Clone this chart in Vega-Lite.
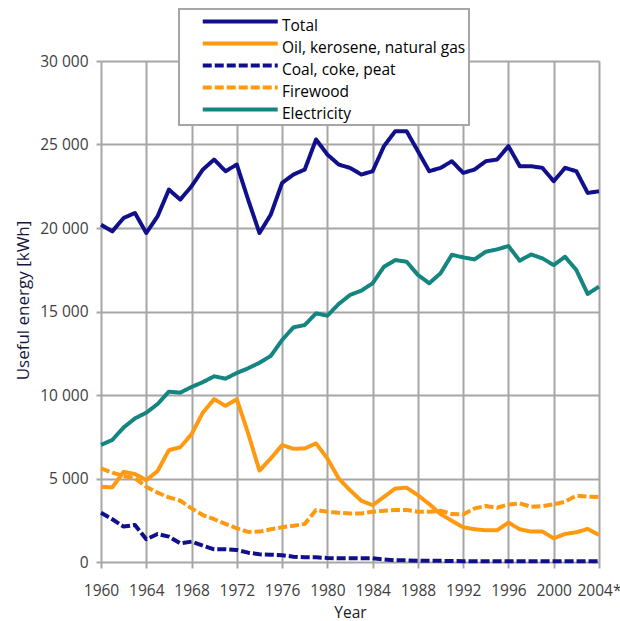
{
  "$schema": "https://vega.github.io/schema/vega-lite/v6.json",
  "width": 498,
  "height": 501,
  "autosize": "none",
  "padding": {"left": 101, "top": 61, "right": 21, "bottom": 59},
  "background": "white",
  "config": {
    "view": {"stroke": null},
    "font": "Open Sans",
    "axis": {
      "gridColor": "#a6a6a6",
      "gridWidth": 2,
      "gridOpacity": 1,
      "tickColor": "#a6a6a6",
      "tickWidth": 2,
      "domain": false,
      "labelFont": "Open Sans",
      "labelFontSize": 15.5,
      "labelColor": "#404040",
      "titleFont": "Open Sans",
      "titleFontWeight": "normal"
    }
  },
  "data": {
    "values": [
      {"year":1960,"series":"Total","value":20200},{"year":1961,"series":"Total","value":19800},{"year":1962,"series":"Total","value":20600},{"year":1963,"series":"Total","value":20900},{"year":1964,"series":"Total","value":19700},{"year":1965,"series":"Total","value":20700},{"year":1966,"series":"Total","value":22300},{"year":1967,"series":"Total","value":21700},{"year":1968,"series":"Total","value":22500},{"year":1969,"series":"Total","value":23500},{"year":1970,"series":"Total","value":24100},{"year":1971,"series":"Total","value":23400},{"year":1972,"series":"Total","value":23800},{"year":1973,"series":"Total","value":21700},{"year":1974,"series":"Total","value":19700},{"year":1975,"series":"Total","value":20800},{"year":1976,"series":"Total","value":22700},{"year":1977,"series":"Total","value":23200},{"year":1978,"series":"Total","value":23500},{"year":1979,"series":"Total","value":25300},{"year":1980,"series":"Total","value":24400},{"year":1981,"series":"Total","value":23800},{"year":1982,"series":"Total","value":23600},{"year":1983,"series":"Total","value":23200},{"year":1984,"series":"Total","value":23400},{"year":1985,"series":"Total","value":24900},{"year":1986,"series":"Total","value":25800},{"year":1987,"series":"Total","value":25800},{"year":1988,"series":"Total","value":24600},{"year":1989,"series":"Total","value":23400},{"year":1990,"series":"Total","value":23600},{"year":1991,"series":"Total","value":24000},{"year":1992,"series":"Total","value":23300},{"year":1993,"series":"Total","value":23500},{"year":1994,"series":"Total","value":24000},{"year":1995,"series":"Total","value":24100},{"year":1996,"series":"Total","value":24900},{"year":1997,"series":"Total","value":23700},{"year":1998,"series":"Total","value":23700},{"year":1999,"series":"Total","value":23600},{"year":2000,"series":"Total","value":22800},{"year":2001,"series":"Total","value":23600},{"year":2002,"series":"Total","value":23400},{"year":2003,"series":"Total","value":22100},{"year":2004,"series":"Total","value":22200},
      {"year":1960,"series":"Oil, kerosene, natural gas","value":4500},{"year":1961,"series":"Oil, kerosene, natural gas","value":4470},{"year":1962,"series":"Oil, kerosene, natural gas","value":5400},{"year":1963,"series":"Oil, kerosene, natural gas","value":5270},{"year":1964,"series":"Oil, kerosene, natural gas","value":4900},{"year":1965,"series":"Oil, kerosene, natural gas","value":5450},{"year":1966,"series":"Oil, kerosene, natural gas","value":6700},{"year":1967,"series":"Oil, kerosene, natural gas","value":6870},{"year":1968,"series":"Oil, kerosene, natural gas","value":7650},{"year":1969,"series":"Oil, kerosene, natural gas","value":8950},{"year":1970,"series":"Oil, kerosene, natural gas","value":9750},{"year":1971,"series":"Oil, kerosene, natural gas","value":9350},{"year":1972,"series":"Oil, kerosene, natural gas","value":9750},{"year":1973,"series":"Oil, kerosene, natural gas","value":7700},{"year":1974,"series":"Oil, kerosene, natural gas","value":5470},{"year":1975,"series":"Oil, kerosene, natural gas","value":6200},{"year":1976,"series":"Oil, kerosene, natural gas","value":7000},{"year":1977,"series":"Oil, kerosene, natural gas","value":6780},{"year":1978,"series":"Oil, kerosene, natural gas","value":6800},{"year":1979,"series":"Oil, kerosene, natural gas","value":7100},{"year":1980,"series":"Oil, kerosene, natural gas","value":6200},{"year":1981,"series":"Oil, kerosene, natural gas","value":5000},{"year":1982,"series":"Oil, kerosene, natural gas","value":4300},{"year":1983,"series":"Oil, kerosene, natural gas","value":3670},{"year":1984,"series":"Oil, kerosene, natural gas","value":3400},{"year":1985,"series":"Oil, kerosene, natural gas","value":3900},{"year":1986,"series":"Oil, kerosene, natural gas","value":4400},{"year":1987,"series":"Oil, kerosene, natural gas","value":4450},{"year":1988,"series":"Oil, kerosene, natural gas","value":4000},{"year":1989,"series":"Oil, kerosene, natural gas","value":3470},{"year":1990,"series":"Oil, kerosene, natural gas","value":2870},{"year":1991,"series":"Oil, kerosene, natural gas","value":2470},{"year":1992,"series":"Oil, kerosene, natural gas","value":2080},{"year":1993,"series":"Oil, kerosene, natural gas","value":1960},{"year":1994,"series":"Oil, kerosene, natural gas","value":1900},{"year":1995,"series":"Oil, kerosene, natural gas","value":1900},{"year":1996,"series":"Oil, kerosene, natural gas","value":2360},{"year":1997,"series":"Oil, kerosene, natural gas","value":1960},{"year":1998,"series":"Oil, kerosene, natural gas","value":1820},{"year":1999,"series":"Oil, kerosene, natural gas","value":1820},{"year":2000,"series":"Oil, kerosene, natural gas","value":1420},{"year":2001,"series":"Oil, kerosene, natural gas","value":1680},{"year":2002,"series":"Oil, kerosene, natural gas","value":1780},{"year":2003,"series":"Oil, kerosene, natural gas","value":1980},{"year":2004,"series":"Oil, kerosene, natural gas","value":1620},
      {"year":1960,"series":"Coal, coke, peat","value":2950},{"year":1961,"series":"Coal, coke, peat","value":2560},{"year":1962,"series":"Coal, coke, peat","value":2120},{"year":1963,"series":"Coal, coke, peat","value":2220},{"year":1964,"series":"Coal, coke, peat","value":1360},{"year":1965,"series":"Coal, coke, peat","value":1680},{"year":1966,"series":"Coal, coke, peat","value":1520},{"year":1967,"series":"Coal, coke, peat","value":1120},{"year":1968,"series":"Coal, coke, peat","value":1220},{"year":1969,"series":"Coal, coke, peat","value":980},{"year":1970,"series":"Coal, coke, peat","value":760},{"year":1971,"series":"Coal, coke, peat","value":760},{"year":1972,"series":"Coal, coke, peat","value":720},{"year":1973,"series":"Coal, coke, peat","value":560},{"year":1974,"series":"Coal, coke, peat","value":460},{"year":1975,"series":"Coal, coke, peat","value":440},{"year":1976,"series":"Coal, coke, peat","value":400},{"year":1977,"series":"Coal, coke, peat","value":320},{"year":1978,"series":"Coal, coke, peat","value":280},{"year":1979,"series":"Coal, coke, peat","value":280},{"year":1980,"series":"Coal, coke, peat","value":240},{"year":1981,"series":"Coal, coke, peat","value":220},{"year":1982,"series":"Coal, coke, peat","value":220},{"year":1983,"series":"Coal, coke, peat","value":220},{"year":1984,"series":"Coal, coke, peat","value":220},{"year":1985,"series":"Coal, coke, peat","value":150},{"year":1986,"series":"Coal, coke, peat","value":100},{"year":1987,"series":"Coal, coke, peat","value":100},{"year":1988,"series":"Coal, coke, peat","value":80},{"year":1989,"series":"Coal, coke, peat","value":80},{"year":1990,"series":"Coal, coke, peat","value":70},{"year":1991,"series":"Coal, coke, peat","value":60},{"year":1992,"series":"Coal, coke, peat","value":50},{"year":1993,"series":"Coal, coke, peat","value":50},{"year":1994,"series":"Coal, coke, peat","value":50},{"year":1995,"series":"Coal, coke, peat","value":50},{"year":1996,"series":"Coal, coke, peat","value":50},{"year":1997,"series":"Coal, coke, peat","value":50},{"year":1998,"series":"Coal, coke, peat","value":50},{"year":1999,"series":"Coal, coke, peat","value":50},{"year":2000,"series":"Coal, coke, peat","value":50},{"year":2001,"series":"Coal, coke, peat","value":50},{"year":2002,"series":"Coal, coke, peat","value":50},{"year":2003,"series":"Coal, coke, peat","value":50},{"year":2004,"series":"Coal, coke, peat","value":50},
      {"year":1960,"series":"Firewood","value":5610},{"year":1961,"series":"Firewood","value":5350},{"year":1962,"series":"Firewood","value":5150},{"year":1963,"series":"Firewood","value":5010},{"year":1964,"series":"Firewood","value":4510},{"year":1965,"series":"Firewood","value":4150},{"year":1966,"series":"Firewood","value":3870},{"year":1967,"series":"Firewood","value":3670},{"year":1968,"series":"Firewood","value":3210},{"year":1969,"series":"Firewood","value":2810},{"year":1970,"series":"Firewood","value":2560},{"year":1971,"series":"Firewood","value":2280},{"year":1972,"series":"Firewood","value":2020},{"year":1973,"series":"Firewood","value":1800},{"year":1974,"series":"Firewood","value":1820},{"year":1975,"series":"Firewood","value":1960},{"year":1976,"series":"Firewood","value":2080},{"year":1977,"series":"Firewood","value":2170},{"year":1978,"series":"Firewood","value":2280},{"year":1979,"series":"Firewood","value":3110},{"year":1980,"series":"Firewood","value":3010},{"year":1981,"series":"Firewood","value":2950},{"year":1982,"series":"Firewood","value":2910},{"year":1983,"series":"Firewood","value":2910},{"year":1984,"series":"Firewood","value":3010},{"year":1985,"series":"Firewood","value":3070},{"year":1986,"series":"Firewood","value":3110},{"year":1987,"series":"Firewood","value":3110},{"year":1988,"series":"Firewood","value":3010},{"year":1989,"series":"Firewood","value":3010},{"year":1990,"series":"Firewood","value":3070},{"year":1991,"series":"Firewood","value":2870},{"year":1992,"series":"Firewood","value":2850},{"year":1993,"series":"Firewood","value":3210},{"year":1994,"series":"Firewood","value":3350},{"year":1995,"series":"Firewood","value":3250},{"year":1996,"series":"Firewood","value":3450},{"year":1997,"series":"Firewood","value":3510},{"year":1998,"series":"Firewood","value":3310},{"year":1999,"series":"Firewood","value":3350},{"year":2000,"series":"Firewood","value":3450},{"year":2001,"series":"Firewood","value":3610},{"year":2002,"series":"Firewood","value":3970},{"year":2003,"series":"Firewood","value":3910},{"year":2004,"series":"Firewood","value":3890},
      {"year":1960,"series":"Electricity","value":7010},{"year":1961,"series":"Electricity","value":7310},{"year":1962,"series":"Electricity","value":8060},{"year":1963,"series":"Electricity","value":8600},{"year":1964,"series":"Electricity","value":8940},{"year":1965,"series":"Electricity","value":9460},{"year":1966,"series":"Electricity","value":10200},{"year":1967,"series":"Electricity","value":10140},{"year":1968,"series":"Electricity","value":10480},{"year":1969,"series":"Electricity","value":10770},{"year":1970,"series":"Electricity","value":11120},{"year":1971,"series":"Electricity","value":10980},{"year":1972,"series":"Electricity","value":11320},{"year":1973,"series":"Electricity","value":11600},{"year":1974,"series":"Electricity","value":11930},{"year":1975,"series":"Electricity","value":12340},{"year":1976,"series":"Electricity","value":13290},{"year":1977,"series":"Electricity","value":14050},{"year":1978,"series":"Electricity","value":14190},{"year":1979,"series":"Electricity","value":14890},{"year":1980,"series":"Electricity","value":14750},{"year":1981,"series":"Electricity","value":15450},{"year":1982,"series":"Electricity","value":15990},{"year":1983,"series":"Electricity","value":16250},{"year":1984,"series":"Electricity","value":16690},{"year":1985,"series":"Electricity","value":17680},{"year":1986,"series":"Electricity","value":18080},{"year":1987,"series":"Electricity","value":17980},{"year":1988,"series":"Electricity","value":17190},{"year":1989,"series":"Electricity","value":16690},{"year":1990,"series":"Electricity","value":17290},{"year":1991,"series":"Electricity","value":18400},{"year":1992,"series":"Electricity","value":18240},{"year":1993,"series":"Electricity","value":18120},{"year":1994,"series":"Electricity","value":18580},{"year":1995,"series":"Electricity","value":18720},{"year":1996,"series":"Electricity","value":18920},{"year":1997,"series":"Electricity","value":18040},{"year":1998,"series":"Electricity","value":18420},{"year":1999,"series":"Electricity","value":18180},{"year":2000,"series":"Electricity","value":17780},{"year":2001,"series":"Electricity","value":18280},{"year":2002,"series":"Electricity","value":17480},{"year":2003,"series":"Electricity","value":16050},{"year":2004,"series":"Electricity","value":16490}
    ]
  },
  "mark": {"type": "line", "strokeWidth": 4, "strokeJoin": "round", "strokeCap": "butt"},
  "encoding": {
    "x": {
      "field": "year",
      "type": "quantitative",
      "scale": {"domain": [1960, 2004], "nice": false, "zero": false},
      "axis": {
        "values": [1960, 1964, 1968, 1972, 1976, 1980, 1984, 1988, 1992, 1996, 2000, 2004],
        "labelExpr": "datum.value == 2004 ? '2004*' : format(datum.value, 'd')",
        "tickSize": 6,
        "labelBaseline": "middle",
        "labelPadding": 22,
        "labelFlush": false,
        "labelOverlap": false,
        "title": "Year",
        "titleFontSize": 15.5,
        "titleColor": "#1a1a1a",
        "titleBaseline": "middle",
        "titleY": 50
      }
    },
    "y": {
      "field": "value",
      "type": "quantitative",
      "scale": {"domain": [0, 30000], "nice": false},
      "axis": {
        "values": [0, 5000, 10000, 15000, 20000, 25000, 30000],
        "labelExpr": "replace(format(datum.value, ','), ',', ' ')",
        "tickSize": 5,
        "labelPadding": 8,
        "title": "Useful energy [kWh]",
        "titleFontSize": 17,
        "titleColor": "#16163f",
        "titleBaseline": "middle",
        "titleAlign": "center",
        "titleAngle": -90,
        "titleX": -78,
        "titleY": 239
      }
    },
    "color": {
      "field": "series",
      "type": "nominal",
      "scale": {
        "domain": ["Total", "Oil, kerosene, natural gas", "Coal, coke, peat", "Firewood", "Electricity"],
        "range": ["#10108c", "#ff9a10", "#10108c", "#ff9a10", "#158580"]
      },
      "legend": {
        "title": null,
        "orient": "none",
        "legendX": 78,
        "legendY": -52,
        "symbolType": "M1.5,0H11.5",
        "symbolSize": 225,
        "symbolStrokeWidth": 4,
        "labelOffset": 81,
        "labelLimit": 400,
        "labelFont": "Open Sans",
        "labelFontSize": 15.5,
        "labelColor": "#000000",
        "rowPadding": 0,
        "padding": 3,
        "fillColor": "white",
        "strokeColor": "#a6a6a6",
        "encode": {
          "legend": {"update": {"strokeWidth": {"value": 2}}},
          "labels": {"update": {"dy": {"value": 4}}}
        }
      }
    },
    "strokeDash": {
      "field": "series",
      "type": "nominal",
      "scale": {
        "domain": ["Total", "Oil, kerosene, natural gas", "Coal, coke, peat", "Firewood", "Electricity"],
        "range": [[1, 0], [1, 0], [9, 3], [9, 3], [1, 0]]
      },
      "legend": null
    }
  }
}
